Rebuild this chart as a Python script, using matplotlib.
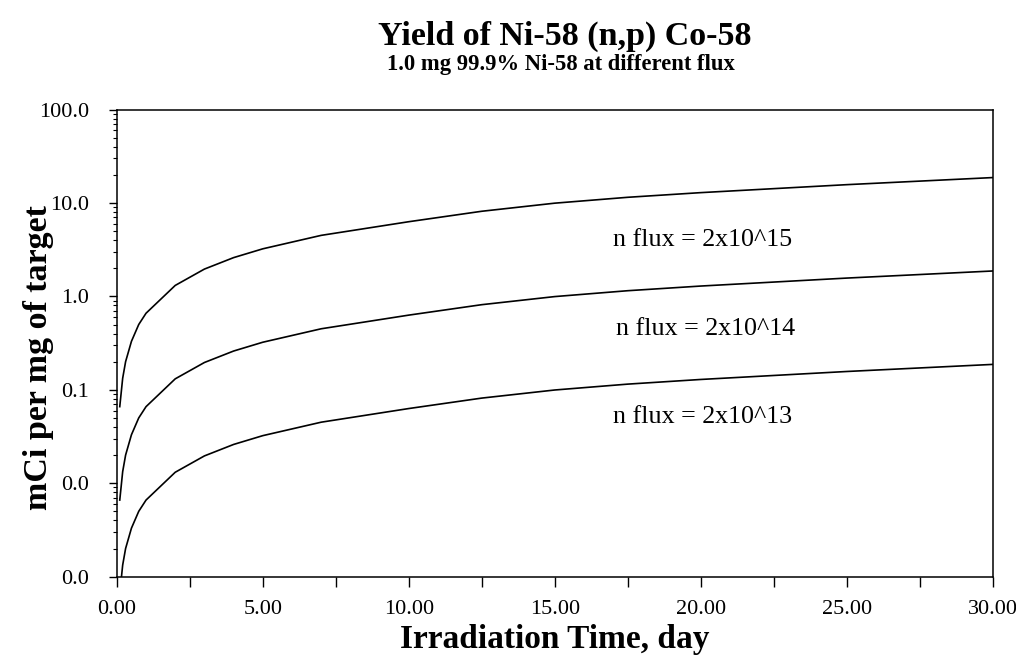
import matplotlib
matplotlib.use("Agg")
import matplotlib.pyplot as plt
from matplotlib.ticker import FormatStrFormatter, MultipleLocator, LogLocator, NullFormatter

plt.rcParams['font.family'] = ['Liberation Serif', 'DejaVu Serif']

# Irradiation time (days)
days = [0.1, 0.2, 0.3, 0.5, 0.75, 1, 2, 3, 4, 5, 7, 10, 12.5, 15, 17.5, 20, 25, 30]

# Yield (mCi per mg of target) for each neutron flux
flux_2e15 = [0.066, 0.133, 0.20, 0.33, 0.50, 0.66, 1.31, 1.96, 2.60, 3.23, 4.50, 6.30, 8.15, 9.95, 11.5, 12.9, 15.7, 18.7]
flux_2e14 = [0.0066, 0.0133, 0.020, 0.033, 0.050, 0.066, 0.131, 0.196, 0.260, 0.323, 0.450, 0.630, 0.815, 0.995, 1.15, 1.29, 1.57, 1.87]
flux_2e13 = [0.00066, 0.00133, 0.0020, 0.0033, 0.0050, 0.0066, 0.0131, 0.0196, 0.0260, 0.0323, 0.0450, 0.0630, 0.0815, 0.0995, 0.115, 0.129, 0.157, 0.187]

series = [flux_2e15, flux_2e14, flux_2e13]
labels = ["n flux = 2x10^15", "n flux = 2x10^14", "n flux = 2x10^13"]
label_pos = [(17.0, 4.0), (17.1, 0.45), (17.0, 0.051)]

fig = plt.figure(figsize=(10.16, 6.56), dpi=100)
ax = fig.add_axes([0.115, 0.121, 0.862, 0.712])

for s in series:
    ax.plot(days, s, color='black', lw=1.2)

for lab, (x, y) in zip(labels, label_pos):
    ax.text(x, y, lab, fontsize=18.7, ha='left', va='center', color='black')

ax.set_yscale('log')
ax.set_xlim(0, 30)
ax.set_ylim(0.001, 100)
ax.xaxis.set_major_locator(MultipleLocator(5))
ax.xaxis.set_minor_locator(MultipleLocator(2.5))
ax.xaxis.set_major_formatter(FormatStrFormatter('%.2f'))
ax.yaxis.set_major_locator(LogLocator(base=10, numticks=10))
ax.yaxis.set_minor_locator(LogLocator(base=10, subs=range(2, 10), numticks=10))
ax.yaxis.set_major_formatter(FormatStrFormatter('%.1f'))
ax.yaxis.set_minor_formatter(NullFormatter())

ax.tick_params(axis='x', which='both', direction='out', length=7, width=1, labelsize=16, pad=10)
ax.tick_params(axis='y', which='major', direction='out', length=6, width=1, labelsize=16, pad=14)
ax.tick_params(axis='y', which='minor', direction='out', length=3, width=0.8)
for sp in ax.spines.values():
    sp.set_linewidth(1.1)

ax.set_xlabel("Irradiation Time, day", fontsize=24, fontweight='bold')
ax.xaxis.set_label_coords(0.5, -0.102)
ax.set_ylabel("mCi per mg of target", fontsize=24.5, fontweight='bold')
ax.yaxis.set_label_coords(-0.072, 0.47)

fig.text(0.556, 0.944, "Yield of Ni-58 (n,p) Co-58", fontsize=24.5, fontweight='bold',
         ha='center', va='center')
fig.text(0.552, 0.902, "1.0 mg 99.9% Ni-58 at different flux", fontsize=16.3, fontweight='bold',
         ha='center', va='center')

fig.savefig("out.png", dpi=100)
